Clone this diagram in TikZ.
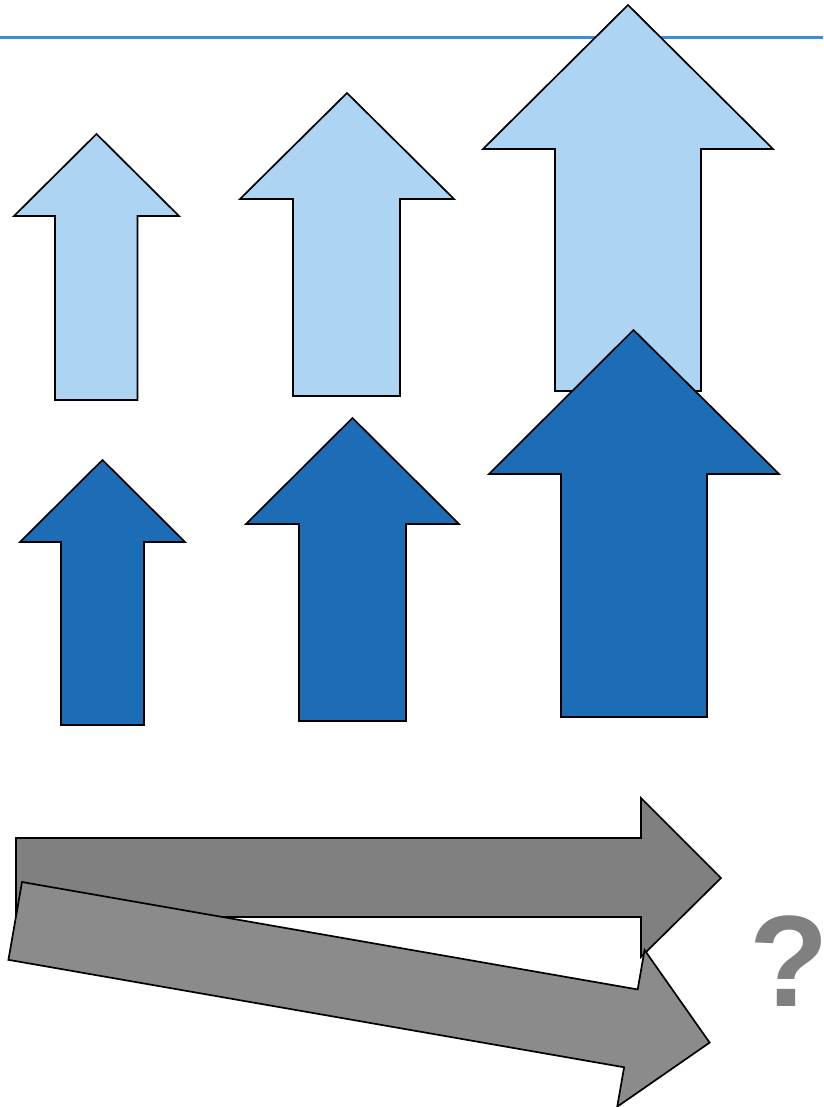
\documentclass[tikz,border=0pt]{standalone}
\usepackage{fontspec}
\newfontfamily\qfont{Liberation Sans}
\definecolor{lightup}{HTML}{AED4F3}
\definecolor{darkup}{HTML}{1C6DB5}
\definecolor{rulecol}{HTML}{3A8EE0}
\definecolor{greyone}{HTML}{808080}
\definecolor{greytwo}{HTML}{8B8B8B}
\tikzset{
  lightarrow/.style={draw=black, fill=lightup, line width=1.7pt, line join=miter},
  darkarrow/.style={draw=black, fill=darkup, line width=1.7pt, line join=miter},
  greyarrow/.style={draw=black, line width=1.7pt, line join=miter},
}
\begin{document}
\begin{tikzpicture}[x=1pt, y=-1pt]
\useasboundingbox (0,0) rectangle (823,1107);
% top rule
\draw[rulecol, line width=3pt] (0,38) -- (823,38);
% light blue arrows
\draw[lightarrow] (96.5,134) -- (179,216) -- (137.5,216) -- (137.5,400) -- (55,400) -- (55,216) -- (14,216) -- cycle;
\draw[lightarrow] (347,93) -- (454,199) -- (400,199) -- (400,396) -- (293,396) -- (293,199) -- (240,199) -- cycle;
\draw[lightarrow] (628,5) -- (773,149) -- (701,149) -- (701,391) -- (555,391) -- (555,149) -- (483,149) -- cycle;
% dark blue arrows
\draw[darkarrow] (102.5,460) -- (185,542) -- (144,542) -- (144,725) -- (61,725) -- (61,542) -- (20,542) -- cycle;
\draw[darkarrow] (352.5,418) -- (459,524) -- (406,524) -- (406,721) -- (299,721) -- (299,524) -- (246,524) -- cycle;
\draw[darkarrow] (633.5,330) -- (779,474) -- (707,474) -- (707,717) -- (561,717) -- (561,474) -- (489,474) -- cycle;
% grey arrows
\draw[greyarrow, fill=greyone] (16,838) -- (641,838) -- (641,798) -- (721,878) -- (641,957) -- (641,917) -- (16,917) -- cycle;
\begin{scope}[shift={(22,882)}, rotate=-9.9]
\draw[greyarrow, fill=greytwo] (0,0) -- (625,0) -- (625,-40) -- (705,40) -- (625,119) -- (625,79) -- (0,79) -- cycle;
\end{scope}
% question mark
\node[anchor=base, inner sep=0pt, text=greyone] (qmark) at (785,1006)
  {\qfont\bfseries\fontsize{130}{130}\selectfont ?\kern-8pt};
\end{tikzpicture}
\end{document}
